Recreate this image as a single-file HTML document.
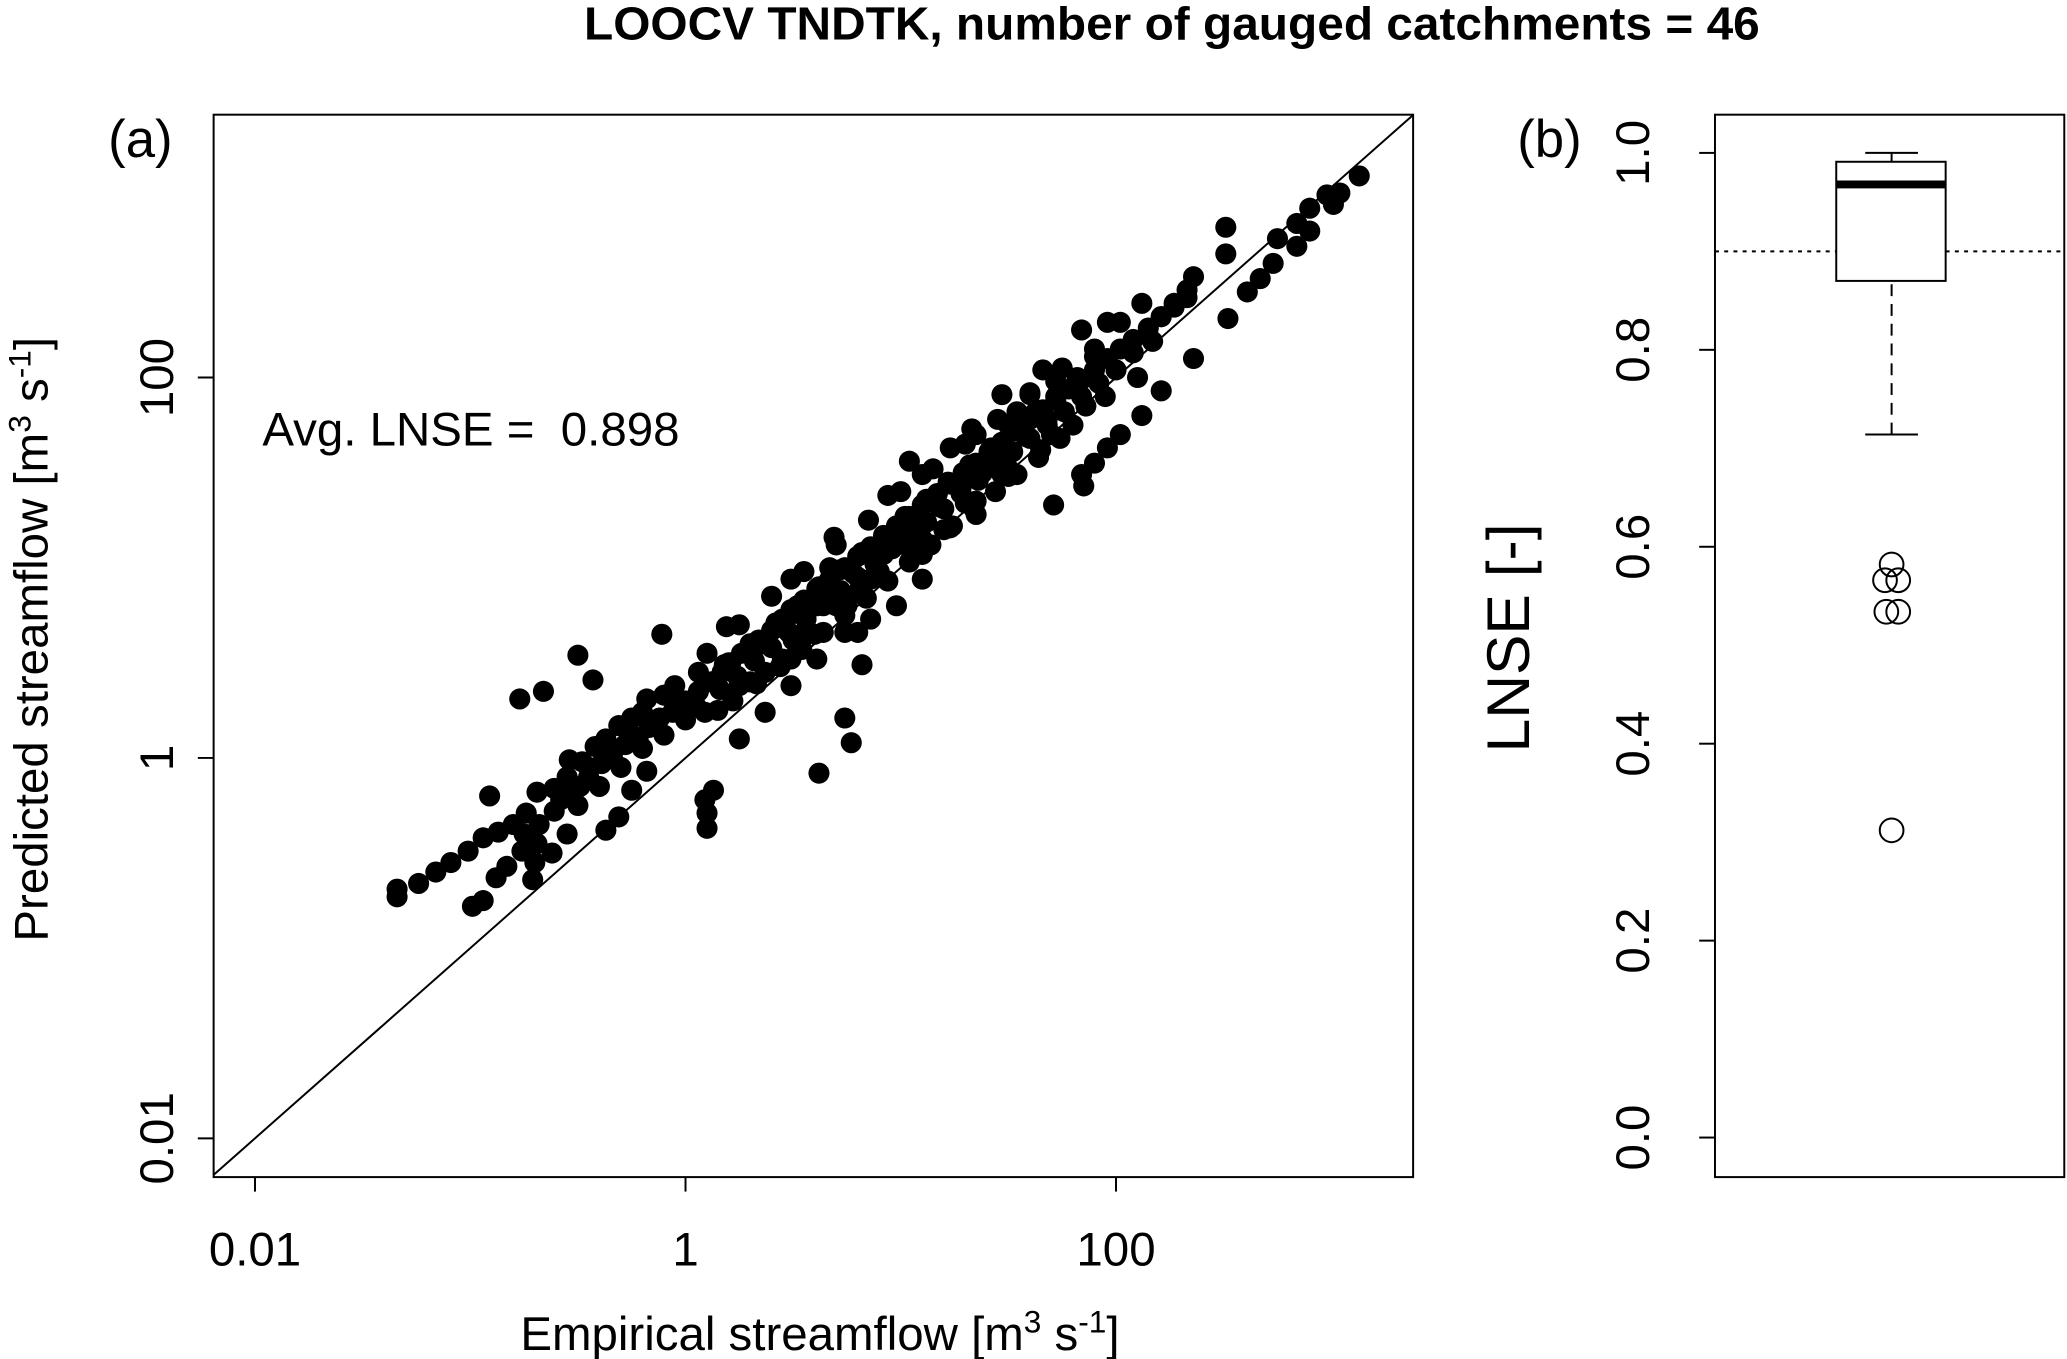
<!DOCTYPE html>
<html><head><meta charset="utf-8"><style>
html,body{margin:0;padding:0;background:#fff;}
svg{display:block;}
text{font-family:"Liberation Sans",sans-serif;fill:#000;}
</style></head><body>
<svg id="fig" width="2067" height="1359" viewBox="0 0 1568 1031" xmlns="http://www.w3.org/2000/svg">
<text x="889" y="30" text-anchor="middle" font-size="35" font-weight="bold" textLength="892" lengthAdjust="spacingAndGlyphs">LOOCV TNDTK, number of gauged catchments = 46</text>
<g id="pa">
<rect x="162" y="87" width="910" height="806" fill="none" stroke="#000" stroke-width="1.5"/>
<text x="82" y="119" font-size="40">(a)</text>
<text x="199" y="338" font-size="36" xml:space="preserve">Avg. LNSE =  0.898</text>
<text x="622" y="1024" text-anchor="middle" font-size="36">Empirical streamflow [m<tspan font-size="24" dy="-13">3</tspan><tspan dy="13"> s</tspan><tspan font-size="24" dy="-13">-1</tspan><tspan dy="13">]</tspan></text>
<text transform="translate(36,485) rotate(-90)" text-anchor="middle" font-size="36">Predicted streamflow [m<tspan font-size="24" dy="-13">3</tspan><tspan dy="13"> s</tspan><tspan font-size="24" dy="-13">-1</tspan><tspan dy="13">]</tspan></text>
</g>
<g id="pb">
<rect x="1301" y="87" width="265" height="806" fill="none" stroke="#000" stroke-width="1.5"/>
<text x="1151" y="119" font-size="40">(b)</text>
<text transform="translate(1160,484) rotate(-90)" text-anchor="middle" font-size="46">LNSE [-]</text>
</g>
</svg>
<script>
// Scatter data (log10 of streamflow)
const empiricalLog = [
-1.34,-1.34,-1.24,-1.16,-1.09,-1.01,-0.91,-0.94,-0.87,-0.80,-0.74,-0.69,-0.61,-0.55,-0.54,-0.48,-0.42,-0.37,-0.31,-0.25,-0.20,-0.18,-0.10,-0.05,
-0.99,-0.94,-0.88,-0.83,-0.76,-0.69,-0.68,-0.61,-0.58,-0.53,-0.49,-0.45,-0.39,-0.34,-0.28,-0.22,-0.17,-0.12,-0.06,0.00,
0.06,0.12,0.17,0.21,0.26,0.34,0.40,0.45,0.49,0.55,0.61,0.67,0.74,0.80,0.86,0.92,0.98,1.04,1.10,1.17,1.23,1.29,1.35,1.41,1.47,1.53,1.60,1.66,1.72,1.78,1.84,1.90,1.96,2.02,2.08,2.15,2.21,2.27,2.33,
0.10,0.25,0.40,0.55,0.70,0.85,1.00,1.15,1.30,1.45,1.60,1.75,1.90,
0.15,0.30,0.45,0.60,0.75,0.90,1.05,1.20,1.35,1.50,1.65,1.80,1.95,2.10,
-0.77,-0.66,-0.50,-0.43,-0.11,0.19,0.18,0.06,0.09,0.10,0.10,0.09,0.13,0.62,0.77,0.74,0.82,0.51,0.69,0.94,1.33,1.54,1.71,1.85,2.08,2.17,2.36,2.52,2.51,2.51,2.36,2.61,2.67,2.73,2.84,2.90,2.98,3.04,3.13,2.75,2.84,2.90,3.01,
1.90,1.96,2.02,2.12,2.21,1.84,1.60,1.50,1.72,
1.10,0.98,0.86,0.74,0.61,0.49,0.37,0.25,-0.31,-0.37,-0.25,-0.18,0.49,0.55,0.80,0.86,1.10,1.23,1.35,1.47,1.10,1.04,1.35,1.23,0.49,0.61,0.80,0.25,0.37,0.67,0.92,1.47,1.66,1.84,1.96,2.12,2.21,2.33,2.27,2.02,1.90,-0.71,
0.16,0.24,0.32,0.40,0.48,0.56,0.64,0.72,0.80,0.88,0.96,1.04,1.12,1.20,1.28,1.36,1.44,1.52,1.60,1.68,1.76,1.84,1.92,2.00,
0.20,0.30,0.42,0.52,0.62,0.72,0.82,0.92,1.02,1.12,1.22,1.32,1.42,1.52,1.62,1.72,1.82,
0.22,0.33,0.44,0.54,0.64,0.74,0.84,0.94,1.04,1.14,1.24,1.34,1.44,1.54,1.64,1.74,
-0.50,-0.40,-0.30,-0.20,-0.10,0.00,-0.45,-0.35,-0.25,-0.15,-0.05,0.05,-0.55,-0.62,-0.70,-0.75,
0.36,0.46,0.58,0.68,0.78,0.88,0.98,1.08,1.18,1.28,1.38,1.48,1.58,1.68,0.50,0.70,0.90,1.10,1.30,1.50,1.70,1.86
];
const predictedLog = [
-0.69,-0.73,-0.66,-0.60,-0.55,-0.49,-0.20,-0.42,-0.39,-0.35,-0.29,-0.18,-0.16,-0.10,-0.01,-0.02,0.06,0.10,0.17,0.21,0.24,0.31,0.33,0.38,
-0.78,-0.75,-0.63,-0.57,-0.49,-0.45,-0.35,-0.28,-0.22,-0.17,-0.15,-0.10,-0.03,0.01,0.07,0.10,0.16,0.21,0.24,0.30,
0.35,0.40,0.45,0.50,0.55,0.62,0.67,0.73,0.78,0.83,0.89,0.94,1.00,1.06,1.11,1.16,1.22,1.27,1.33,1.39,1.44,1.50,1.55,1.61,1.66,1.72,1.78,1.83,1.88,1.94,1.99,2.04,2.10,2.15,2.20,2.26,2.32,2.37,2.42,
0.55,0.70,0.85,0.98,1.12,1.25,1.40,1.52,1.65,1.78,1.92,2.05,2.15,
0.25,0.40,0.52,0.65,0.80,0.95,1.08,1.20,1.35,1.48,1.62,1.75,1.90,2.00,
0.31,0.35,0.54,0.41,0.65,0.69,0.49,0.45,0.24,-0.29,-0.37,-0.22,-0.17,-0.08,0.08,0.21,0.49,0.76,1.16,1.38,1.73,1.82,1.33,1.43,2.13,2.19,2.10,2.31,2.79,2.65,2.53,2.45,2.52,2.60,2.81,2.89,2.96,2.97,3.06,2.73,2.69,2.77,2.91,
1.55,1.63,1.70,1.80,1.93,1.49,1.91,1.75,1.98,
0.94,0.80,0.73,0.66,0.52,0.38,0.24,0.10,-0.31,-0.38,-0.17,-0.07,0.52,0.66,0.87,0.94,1.07,1.21,1.28,1.49,1.49,1.56,1.70,1.63,0.94,0.80,0.66,0.38,0.45,1.00,1.07,1.91,2.04,2.25,2.29,2.39,2.32,2.46,2.39,2.29,2.11,-0.64,
0.36,0.43,0.51,0.58,0.66,0.73,0.80,0.88,0.95,1.02,1.10,1.17,1.24,1.31,1.39,1.46,1.53,1.61,1.68,1.75,1.82,1.90,1.97,2.04,
0.50,0.60,0.71,0.80,0.90,0.99,1.08,1.17,1.27,1.36,1.45,1.54,1.63,1.72,1.81,1.90,2.00,
0.30,0.39,0.48,0.57,0.66,0.75,0.84,0.93,1.03,1.12,1.22,1.31,1.40,1.49,1.58,1.68,
-0.25,-0.15,-0.05,0.05,0.12,0.20,-0.05,0.03,0.12,0.18,0.28,0.27,-0.40,-0.50,-0.55,-0.40,
0.60,0.68,0.79,0.87,0.97,1.05,1.14,1.24,1.32,1.42,1.50,1.60,1.69,1.78,0.62,0.80,0.98,1.15,1.34,1.52,1.70,1.85
];
const xTickValues = [0.01, 1, 100];
const xTickLabels = ["0.01", "1", "100"];
const yTickValues = [0.01, 1, 100];
const yTickLabels = ["0.01", "1", "100"];
// Boxplot data (LNSE)
const boxStats = [0.714, 0.870, 0.968, 0.991, 1.0]; // lower whisker, q1, median, q3, upper whisker
const outliers = [0.582, 0.566, 0.566, 0.534, 0.534, 0.312];
const lnseTickValues = [0.0, 0.2, 0.4, 0.6, 0.8, 1.0];
const lnseTickLabels = ["0.0", "0.2", "0.4", "0.6", "0.8", "1.0"];
const referenceLine = 0.9;

const NS = "http://www.w3.org/2000/svg";
function xs(logv){ return 520 + logv * 163.3; }
function ys(logv){ return 575 - logv * 144.3; }
function yb(v){ return 863 - v * 747; }
function mk(tag, attrs, parent){
  const e = document.createElementNS(NS, tag);
  for (const k in attrs) e.setAttribute(k, attrs[k]);
  parent.appendChild(e);
  return e;
}
const pa = document.getElementById('pa');
const pb = document.getElementById('pb');

const lx0 = (162 - 520) / 163.3, lx1 = (1072 - 520) / 163.3;
const diag = mk('line', {x1: 162, y1: ys(lx0), x2: 1072, y2: ys(lx1), stroke: '#000', 'stroke-width': 1.5}, pa);



const pts = mk('g', {}, pa);


for (let i = 0; i < empiricalLog.length; i++) {
  const c = mk('circle', {cx: xs(empiricalLog[i]), cy: ys(predictedLog[i]), r: 8, fill: '#000'}, pts);
  
  
}

xTickValues.forEach((v, i) => {
  const x = xs(Math.log10(v));
  const t = mk('line', {x1: x, y1: 893, x2: x, y2: 904, stroke: '#000', 'stroke-width': 1.5}, pa);
  
  
  const l = mk('text', {x: x, y: 960, 'text-anchor': 'middle', 'font-size': 36}, pa);
  l.textContent = xTickLabels[i];
  
  
});
yTickValues.forEach((v, i) => {
  const y = ys(Math.log10(v));
  const t = mk('line', {x1: 162, y1: y, x2: 150, y2: y, stroke: '#000', 'stroke-width': 1.5}, pa);
  
  
  const l = mk('text', {transform: 'translate(131,' + y + ') rotate(-90)', 'text-anchor': 'middle', 'font-size': 36}, pa);
  l.textContent = yTickLabels[i];
  
  
});

lnseTickValues.forEach((v, i) => {
  const y = yb(v);
  const t = mk('line', {x1: 1301, y1: y, x2: 1289, y2: y, stroke: '#000', 'stroke-width': 1.5}, pb);
  
  
  const l = mk('text', {transform: 'translate(1251,' + y + ') rotate(-90)', 'text-anchor': 'middle', 'font-size': 36}, pb);
  l.textContent = lnseTickLabels[i];
  
  
});
const ref = mk('line', {x1: 1301, y1: yb(referenceLine), x2: 1566, y2: yb(referenceLine), stroke: '#000', 'stroke-width': 1.5, 'stroke-dasharray': '3,4'}, pb);


const cx = 1435;
const wl = mk('line', {x1: cx, y1: yb(boxStats[0]), x2: cx, y2: yb(boxStats[1]), stroke: '#000', 'stroke-width': 1.5, 'stroke-dasharray': '9,6'}, pb);


const wu = mk('line', {x1: cx, y1: yb(boxStats[4]), x2: cx, y2: yb(boxStats[3]), stroke: '#000', 'stroke-width': 1.5}, pb);


const cl = mk('line', {x1: cx - 20, y1: yb(boxStats[0]), x2: cx + 20, y2: yb(boxStats[0]), stroke: '#000', 'stroke-width': 1.5}, pb);


const cu = mk('line', {x1: cx - 20, y1: yb(boxStats[4]), x2: cx + 20, y2: yb(boxStats[4]), stroke: '#000', 'stroke-width': 1.5}, pb);


const bx = mk('rect', {x: 1393, y: yb(boxStats[3]), width: 83, height: yb(boxStats[1]) - yb(boxStats[3]), fill: '#fff', stroke: '#000', 'stroke-width': 1.5}, pb);


const md = mk('line', {x1: 1393, y1: yb(boxStats[2]), x2: 1476, y2: yb(boxStats[2]), stroke: '#000', 'stroke-width': 6}, pb);


const offs = [0, -5, 5, -4, 5, 0];
outliers.forEach((v, i) => {
  const o = mk('circle', {cx: cx + offs[i], cy: yb(v), r: 9, fill: 'none', stroke: '#000', 'stroke-width': 1.5}, pb);
  
  
});
</script>
</body></html>
